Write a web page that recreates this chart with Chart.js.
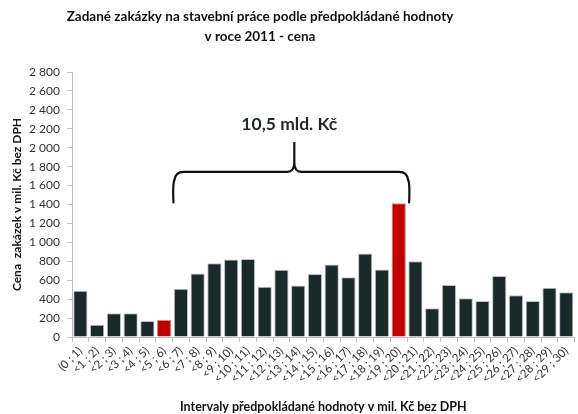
<!DOCTYPE html>
<html><head><meta charset="utf-8">
<script src="https://cdn.jsdelivr.net/npm/chart.js@4"></script>
<style>html,body{margin:0;padding:0;background:#fff}#wrap{width:578px;height:414px}</style>
</head><body><div id="wrap"><canvas id="c" width="578" height="414"></canvas></div>
<script>
const categories = ["(0 ; 1)","<1 ; 2)","<2 ; 3)","<3 ; 4)","<4 ; 5)","<5 ; 6)","<6 ; 7)","<7 ; 8)","<8 ; 9)","<9 ; 10)",
  "<10 ; 11)","<11 ; 12)","<12 ; 13)","<13 ; 14)","<14 ; 15)","<15 ; 16)","<16 ; 17)","<17 ; 18)","<18 ; 19)","<19 ; 20)",
  "<20 ; 21)","<21 ; 22)","<22 ; 23)","<23 ; 24)","<24 ; 25)","<25 ; 26)","<26 ; 27)","<27 ; 28)","<28 ; 29)","<29 ; 30)"];
const values = [490,130,250,250,170,180,510,670,780,820,825,530,710,545,665,765,632,882,713,1413,801,303,550,409,380,645,441,380,521,472];
const highlighted = [5, 19];
const bracketFrom = 6, bracketTo = 19;
const bracketLabel = "10,5 mld. Kč";
const titleLines = ['Zadané zakázky na stavební práce podle předpokládané hodnoty', 'v roce 2011 - cena'];
const yMax = 2800, yStep = 200;

const DARK = '#1b292b', RED = '#c00000';
const fmt = v => String(v).replace(/\B(?=(\d{3})+(?!\d))/g, ' ');

const titlePlugin = {
  id: 'customTitle',
  afterDraw(chart) {
    const ctx = chart.ctx;
    ctx.save();
    ctx.fillStyle = '#111';
    ctx.font = 'bold 13.5px Lato';
    ctx.textAlign = 'center';
    ctx.textBaseline = 'middle';
    titleLines.forEach((t, i) => ctx.fillText(t, 260, 17 + i * 20));
    ctx.restore();
  }
};

const bracePlugin = {
  id: 'brace',
  afterDatasetsDraw(chart) {
    const x = chart.scales.x, y = chart.scales.y, ctx = chart.ctx;
    const half = (x.getPixelForValue(1) - x.getPixelForValue(0)) / 2;
    const x0 = x.getPixelForValue(bracketFrom) - half + 1;
    const x1 = x.getPixelForValue(bracketTo) + half + 2;
    const yb = y.getPixelForValue(values[bracketTo]);
    const yt = y.getPixelForValue(1745);
    const yp = y.getPixelForValue(2060);
    const xm = (x0 + x1) / 2 + 3;
    const r = 8, r2 = 7;
    ctx.save();
    ctx.strokeStyle = '#111';
    ctx.lineWidth = 2.2;
    ctx.lineJoin = 'round';
    ctx.beginPath();
    ctx.moveTo(x0, yb);
    ctx.quadraticCurveTo(x0 - 1, yt + 12, x0 + 1, yt + r);
    ctx.quadraticCurveTo(x0 + 2, yt, x0 + r + 2, yt);
    ctx.lineTo(xm - r2, yt);
    ctx.quadraticCurveTo(xm, yt, xm, yt - r2 - 2);
    ctx.lineTo(xm, yp);
    ctx.moveTo(xm, yt - r2 - 2);
    ctx.quadraticCurveTo(xm, yt, xm + r2, yt);
    ctx.lineTo(x1 - r - 2, yt);
    ctx.quadraticCurveTo(x1 - 2, yt, x1 - 1, yt + r);
    ctx.quadraticCurveTo(x1 + 1, yt + 12, x1, yb);
    ctx.stroke();
    ctx.fillStyle = '#1f2b2b';
    ctx.font = 'bold 17.5px Lato';
    ctx.textAlign = 'center';
    ctx.textBaseline = 'middle';
    ctx.fillText(bracketLabel, xm - 5, y.getPixelForValue(2250));
    ctx.restore();
  }
};

new Chart(document.getElementById('c'), {
  type: 'bar',
  data: {
    labels: categories,
    datasets: [{
      data: values,
      backgroundColor: values.map((v, i) => highlighted.includes(i) ? RED : DARK),
      borderColor: values.map((v, i) => highlighted.includes(i) ? '#e08080' : '#b8c4c4'),
      borderWidth: 1,
      barPercentage: 0.85,
      categoryPercentage: 1.0
    }]
  },
  options: {
    responsive: false,
    animation: false,
    layout: { padding: { left: 0, right: 0, top: 72, bottom: 0 } },
    plugins: {
      legend: { display: false },
      tooltip: { enabled: false },
      title: { display: false }
    },
    scales: {
      x: {
        grid: { display: true, drawOnChartArea: false, offset: true, color: '#c0c0c0', tickLength: 5 },
        border: { display: true, color: '#c0c0c0' },
        ticks: { minRotation: 45, maxRotation: 45, autoSkip: false, color: '#333', font: { family: 'Lato', size: 11.5 }, padding: 2 },
        title: { display: true, text: 'Intervaly předpokládané hodnoty v mil. Kč bez DPH', color: '#111',
                 font: { family: 'Lato', size: 12.5, weight: 'bold' }, padding: { top: 0, bottom: 0 } },
        afterFit(s) { s.height = 77; }
      },
      y: {
        min: 0, max: yMax,
        grid: { display: true, drawOnChartArea: false, color: '#c0c0c0', tickLength: 5 },
        border: { display: true, color: '#c0c0c0' },
        ticks: { stepSize: yStep, callback: v => fmt(v), color: '#333', font: { family: 'Lato', size: 12 }, padding: 7 },
        title: { display: true, text: 'Cena  zakázek v mil. Kč bez DPH', color: '#111',
                 font: { family: 'Lato', size: 12, weight: 'bold' }, padding: { top: 10, bottom: 4 } },
        afterFit(s) { s.width = 72; }
      }
    }
  },
  plugins: [bracePlugin, titlePlugin]
});
</script></body></html>
